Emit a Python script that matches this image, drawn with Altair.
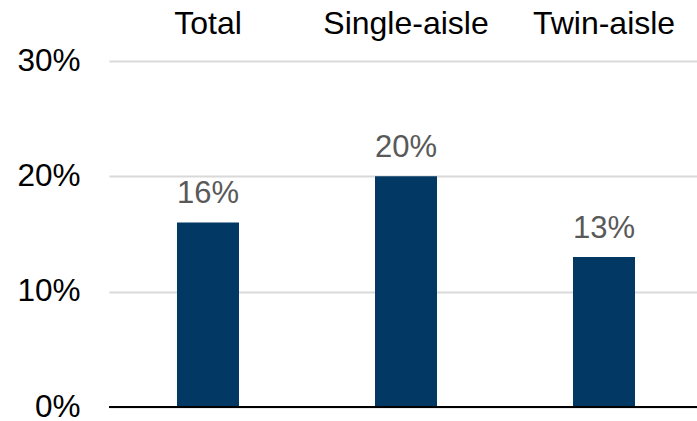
import altair as alt
import pandas as pd

# Share of aircraft, by segment
categories = ["Total", "Single-aisle", "Twin-aisle"]
shares = [0.16, 0.20, 0.13]
y_ticks = [0, 0.10, 0.20, 0.30]

df = pd.DataFrame({"segment": categories, "share": shares})

FONT = "Liberation Sans"
NAVY = "#023864"

x_enc = alt.X(
    "segment:N",
    sort=categories,
    scale=alt.Scale(range=[0, 594], paddingInner=0.1, paddingOuter=0.05),
    axis=alt.Axis(
        orient="top",
        title=None,
        ticks=False,
        tickSize=0,
        domain=False,
        labelAngle=0,
        labelFont=FONT,
        labelFontSize=32,
        labelColor="#000000",
        labelBaseline="alphabetic",
        labelPadding=28,
    ),
)

y_enc = alt.Y(
    "share:Q",
    scale=alt.Scale(domain=[0, 0.30], nice=False),
    axis=alt.Axis(
        title=None,
        values=y_ticks,
        format=".0%",
        ticks=False,
        tickSize=0,
        domain=False,
        labelFont=FONT,
        labelFontSize=31.5,
        labelColor="#000000",
        labelPadding=29,
        gridColor="#d9d9d9",
        gridWidth=2,
    ),
)

base = alt.Chart(df).encode(x=x_enc, y=y_enc)

bars = base.mark_bar(size=62, color=NAVY)

labels = base.mark_text(
    font=FONT,
    fontSize=31,
    color="#595959",
    baseline="alphabetic",
    dy=-19,
).encode(text=alt.Text("share:Q", format=".0%"))

baseline = alt.Chart(pd.DataFrame({"v": [0]})).mark_rule(
    color="#000000", strokeWidth=2
).encode(y=alt.Y("v:Q"))

chart = (
    alt.layer(bars, labels, baseline)
    .properties(
        width=588,
        height=346,
        autosize=alt.AutoSizeParams(type="none"),
        padding={"left": 109, "top": 61, "right": 0, "bottom": 14},
    )
    .configure_view(stroke=None)
)

chart.save("out.html", embed_options={"renderer": "svg", "actions": False})
